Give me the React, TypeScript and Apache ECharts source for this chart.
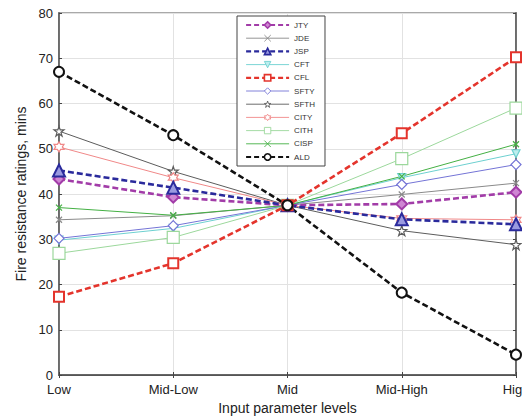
import React, { useEffect, useRef } from "react";
import * as echarts from "echarts";

const categories = ["Low", "Mid-Low", "Mid", "Mid-High", "High"];
const yTicks = [0, 10, 20, 30, 40, 50, 60, 70, 80];

const JTY = [43.3, 39.3, 37.5, 37.8, 40.4];
const JDE = [34.3, 35.2, 37.5, 39.9, 42.4];
const JSP = [45.2, 41.4, 37.5, 34.4, 33.3];
const CFT = [29.8, 32.4, 37.5, 43.6, 48.9];
const CFL = [17.3, 24.7, 37.5, 53.4, 70.2];
const SFTY = [30.2, 33.0, 37.5, 42.1, 46.5];
const SFTH = [53.9, 45.0, 37.5, 31.9, 28.8];
const CITY = [50.4, 43.6, 37.5, 34.6, 34.3];
const CITH = [26.9, 30.4, 37.5, 47.8, 59.0];
const CISP = [37.0, 35.3, 37.5, 43.9, 51.0];
const ALD = [67.0, 53.0, 37.5, 18.2, 4.5];

function starPath(points: number, outer: number, inner: number): string {
  const pts: string[] = [];
  for (let i = 0; i < points * 2; i++) {
    const r = i % 2 === 0 ? outer : inner;
    const a = -Math.PI / 2 + (i * Math.PI) / points;
    pts.push(`${(10 + r * Math.cos(a)).toFixed(2)},${(10 + r * Math.sin(a)).toFixed(2)}`);
  }
  return "path://M" + pts.join("L") + "Z";
}

const X_SYM = "path://M0,0L10,10M10,0L0,10";
const PENTA = starPath(5, 10, 3.9);
const HEXA = starPath(6, 10, 5.8);

type Spec = {
  name: string;
  data: number[];
  color: string;
  fill: string;
  dashed: boolean;
  symbol: string;
  size: number;
  rotate?: number;
};

const specs: Spec[] = [
  { name: "JTY", data: JTY, color: "#a23ca8", fill: "#cf86d3", dashed: true, symbol: "diamond", size: 11 },
  { name: "JDE", data: JDE, color: "#8a8a8a", fill: "none", dashed: false, symbol: X_SYM, size: 6 },
  { name: "JSP", data: JSP, color: "#2a2a9c", fill: "#9a9ae0", dashed: true, symbol: "triangle", size: 12 },
  { name: "CFT", data: CFT, color: "#6dd0d0", fill: "#bdeeee", dashed: false, symbol: "triangle", size: 8, rotate: 180 },
  { name: "CFL", data: CFL, color: "#e4342c", fill: "#ffffff", dashed: true, symbol: "rect", size: 10 },
  { name: "SFTY", data: SFTY, color: "#7474d6", fill: "#ffffff", dashed: false, symbol: "diamond", size: 10 },
  { name: "SFTH", data: SFTH, color: "#5c5c5c", fill: "#ffffff", dashed: false, symbol: PENTA, size: 10 },
  { name: "CITY", data: CITY, color: "#f08888", fill: "#ffffff", dashed: false, symbol: HEXA, size: 10 },
  { name: "CITH", data: CITH, color: "#9cd89c", fill: "#ffffff", dashed: false, symbol: "rect", size: 12 },
  { name: "CISP", data: CISP, color: "#44b044", fill: "none", dashed: false, symbol: X_SYM, size: 6 },
  { name: "ALD", data: ALD, color: "#111111", fill: "#ffffff", dashed: true, symbol: "circle", size: 10 },
];

const FONT = "'Liberation Sans', Arial, sans-serif";

function fillOf(s: Spec) {
  return s.fill === "none" ? "rgba(255,255,255,0)" : s.fill;
}

export default function App() {
  const ref = useRef<HTMLDivElement>(null);
  useEffect(() => {
    if (!ref.current) return;
    const chart = echarts.init(ref.current, undefined, { renderer: "svg" });
    const series = specs.map((s) => ({
      name: s.name,
      type: "line",
      data: s.data,
      symbol: s.symbol,
      symbolSize: s.size,
      symbolRotate: s.rotate || 0,
      showAllSymbol: true,
      lineStyle: {
        color: s.color,
        width: s.dashed ? 2.6 : 1,
        type: s.dashed ? [6, 3] : "solid",
      },
      itemStyle: {
        color: fillOf(s),
        borderColor: s.color,
        borderWidth: s.dashed ? 2 : 1.2,
      },
      emphasis: { disabled: true },
      z: s.dashed ? 3 : 2,
    }));
    chart.setOption({
      animation: false,
      backgroundColor: "#ffffff",
      textStyle: { fontFamily: FONT },
      grid: {
        left: 59,
        right: 14,
        top: 13,
        bottom: 41,
        outerBoundsMode: "none",
        containLabel: false,
        show: true,
        borderColor: "#555",
        borderWidth: 1.2,
      },
      legend: {
        orient: "vertical",
        left: 237,
        top: 16,
        padding: [5, 10, 5, 8],
        itemWidth: 43,
        itemHeight: 8,
        itemGap: 5.2,
        borderColor: "#444",
        borderWidth: 1,
        backgroundColor: "#fff",
        textStyle: { fontSize: 8, color: "#333", fontFamily: FONT },
        data: specs.map((s) => ({
          name: s.name,
          itemStyle: { color: fillOf(s), borderColor: s.color, borderWidth: s.dashed ? 1.6 : 0.9 },
          lineStyle: { color: s.color, width: s.dashed ? 2.2 : 0.9, type: s.dashed ? [5, 3] : "solid" },
        })),
      },
      xAxis: [
        {
          type: "category",
          data: categories,
          boundaryGap: false,
          name: "Input parameter levels",
          nameLocation: "middle",
          nameGap: 26,
          nameTextStyle: { fontSize: 14, color: "#222", fontFamily: FONT },
          axisLine: { lineStyle: { color: "#666", width: 1.8 } },
          axisTick: { inside: true, length: 3, lineStyle: { color: "#444" } },
          axisLabel: { fontSize: 13, color: "#222", margin: 8, lineHeight: 13, fontFamily: FONT },
          splitLine: { show: true, lineStyle: { color: "#e2e2e2" } },
        },
        {
          type: "category",
          data: categories,
          boundaryGap: false,
          position: "top",
          axisLine: { lineStyle: { color: "#555", width: 1.2 } },
          axisTick: { inside: true, length: 3, lineStyle: { color: "#444" } },
          axisLabel: { show: false },
          splitLine: { show: false },
        },
      ],
      yAxis: [
        {
          type: "value",
          min: yTicks[0],
          max: yTicks[yTicks.length - 1],
          interval: 10,
          name: "Fire resistance ratings, mins",
          nameLocation: "middle",
          nameGap: 31,
          nameRotate: 90,
          nameTextStyle: { fontSize: 14, color: "#222", fontFamily: FONT },
          axisLine: { show: true, lineStyle: { color: "#666", width: 1.8 } },
          axisTick: { show: true, inside: true, length: 3, lineStyle: { color: "#444" } },
          axisLabel: { fontSize: 13, color: "#222", margin: 6, fontFamily: FONT, lineHeight: 12 },
          splitLine: { show: true, lineStyle: { color: "#e2e2e2" } },
        },
        {
          type: "value",
          min: yTicks[0],
          max: yTicks[yTicks.length - 1],
          interval: 10,
          position: "right",
          axisLine: { show: true, lineStyle: { color: "#666", width: 1.8 } },
          axisTick: { show: true, inside: true, length: 3, lineStyle: { color: "#444" } },
          axisLabel: { show: false },
          splitLine: { show: false },
        },
      ],
      series,
    });
    return () => chart.dispose();
  }, []);
  return <div ref={ref} style={{ width: 530, height: 416, marginLeft: -8, marginTop: -8 }} />;
}
